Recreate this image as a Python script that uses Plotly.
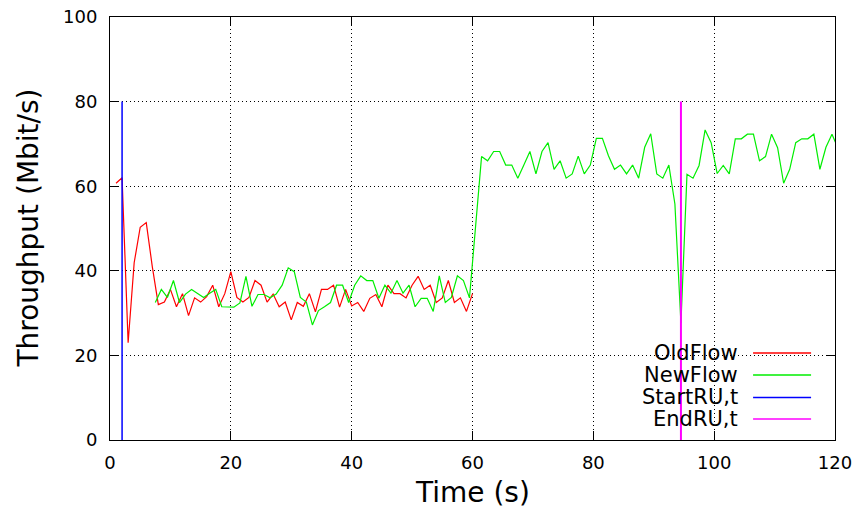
import plotly.graph_objects as go

# Throughput of the old flow, sampled every second (t = 1 .. 60 s)
old_time = list(range(1, 61))
old_flow = [
    60.7, 62.0, 23.0, 41.9, 50.3, 51.4, 41.0, 32.0, 32.6, 35.6,
    31.5, 34.6, 29.4, 33.6, 32.6, 33.9, 36.6, 31.5, 34.6, 39.8,
    33.7, 32.6, 33.7, 37.7, 36.6, 32.6, 34.5, 31.5, 32.6, 28.4,
    32.5, 31.6, 34.6, 30.3, 35.6, 35.6, 36.6, 31.4, 35.6, 31.7,
    32.5, 30.4, 33.5, 34.4, 31.5, 36.6, 34.6, 34.6, 33.6, 36.6,
    38.7, 35.6, 36.6, 32.5, 33.6, 37.7, 32.5, 33.6, 30.4, 34.6,
]

# Throughput of the new flow, sampled at half-second offsets (t = 7.5 .. 120.5 s)
new_time = [t + 0.5 for t in range(7, 121)]
new_flow = [
    32.5, 35.6, 33.7, 37.7, 32.5, 34.5, 35.6, 34.7, 33.7, 34.7,
    35.6, 31.5, 31.4, 31.4, 32.4, 38.7, 31.6, 34.4, 34.4, 33.6,
    34.5, 36.6, 40.7, 39.8, 33.7, 32.6, 27.2, 30.6, 31.5, 32.5,
    36.6, 36.6, 32.5, 36.6, 38.8, 37.7, 37.7, 33.5, 36.6, 34.7,
    37.7, 34.7, 36.6, 31.5, 33.5, 33.5, 30.4, 38.8, 32.5, 33.7,
    38.8, 37.7, 33.6, 50.3, 67.0, 66.0, 68.2, 68.2, 65.0, 65.0,
    61.9, 65.0, 68.2, 62.9, 68.2, 70.3, 64.0, 66.0, 61.9, 62.9,
    67.1, 62.9, 65.0, 71.3, 71.3, 67.2, 64.0, 65.0, 62.9, 65.0,
    61.9, 69.2, 72.4, 62.9, 61.9, 65.0, 55.8, 27.6, 62.8, 61.9,
    64.9, 73.3, 70.3, 63.0, 64.9, 62.9, 71.2, 71.2, 72.3, 72.3,
    66.0, 67.0, 72.3, 69.1, 60.7, 64.0, 70.3, 71.2, 71.2, 72.3,
    64.0, 69.2, 72.3, 69.0,
]

# Reconfiguration markers (vertical lines)
start_ru_time = [2, 2]
end_ru_time = [94.5, 94.5]
marker_span = [0, 80]

series_names = ["OldFlow", "NewFlow", "StartRU,t", "EndRU,t"]
series_colors = ["#ff0000", "#00ee00", "#0000ff", "#ff00ff"]
series_widths = [1.2, 1.2, 1.5, 2.0]
key_widths = [1.3, 1.3, 1.6, 1.6]

x_ticks = [0, 20, 40, 60, 80, 100, 120]
y_ticks = [0, 20, 40, 60, 80, 100]

FONT = "DejaVu Sans"

fig = go.Figure()
traces = [
    (old_time, old_flow),
    (new_time, new_flow),
    (start_ru_time, marker_span),
    (end_ru_time, marker_span),
]
for (xs, ys), name, color, width in zip(traces, series_names, series_colors, series_widths):
    fig.add_trace(go.Scatter(
        x=xs, y=ys, mode="lines", name=name,
        line=dict(color=color, width=width),
        showlegend=False, hoverinfo="skip",
    ))

# Key drawn as text on the left, sample line on the right
key_text_x = 0.869
key_line_x0, key_line_x1 = 0.887, 0.967
key_rows_y = [0.2057, 0.1537, 0.1005, 0.0496]

shapes = [
    # opaque key background (hides the grid, not the curves)
    dict(type="rect", xref="paper", yref="paper",
         x0=0.715, x1=0.985, y0=0.008, y1=0.245,
         fillcolor="white", line=dict(width=0), layer="between"),
]
annotations = []
for name, color, yk, kw in zip(series_names, series_colors, key_rows_y, key_widths):
    annotations.append(dict(
        x=key_text_x, y=yk, xref="paper", yref="paper",
        text=name, showarrow=False, xanchor="right", yanchor="middle",
        font=dict(family=FONT, size=21, color="black"),
    ))
    shapes.append(dict(
        type="line", xref="paper", yref="paper",
        x0=key_line_x0, x1=key_line_x1, y0=yk, y1=yk,
        line=dict(color=color, width=kw), layer="above",
    ))

# Axis titles
annotations.append(dict(
    x=0.5, y=-0.125, xref="paper", yref="paper", text="Time (s)",
    showarrow=False, xanchor="center", yanchor="middle",
    font=dict(family=FONT, size=28, color="black"),
))
annotations.append(dict(
    x=-0.113, y=0.5, xref="paper", yref="paper", text="Throughput (Mbit/s)",
    showarrow=False, xanchor="center", yanchor="middle", textangle=-90,
    font=dict(family=FONT, size=28, color="black"),
))

axis_common = dict(
    showline=True, linecolor="black", linewidth=1, mirror="ticks",
    ticks="inside", ticklen=9, tickwidth=1, tickcolor="black",
    showgrid=True, gridcolor="black", gridwidth=1, griddash="1px,3px",
    zeroline=False, automargin=False,
    tickfont=dict(family=FONT, size=18, color="black"),
)

fig.update_layout(
    width=860, height=516,
    margin=dict(l=110, r=25, t=17, b=76),
    paper_bgcolor="white", plot_bgcolor="white",
    xaxis=dict(range=[0, 120], tickvals=x_ticks, ticklabelstandoff=6, **axis_common),
    yaxis=dict(range=[0, 100], tickvals=y_ticks, ticklabelstandoff=8, **axis_common),
    shapes=shapes,
    annotations=annotations,
    showlegend=False,
)

fig.write_html("out.html")
